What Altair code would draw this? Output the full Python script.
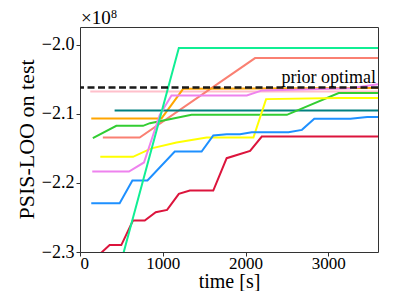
import altair as alt
import pandas as pd

# ---- data (values in units of 1e8) ----
crimson_t = [230, 358, 499, 640, 782, 915, 1052, 1194, 1327, 1610, 1772, 2055, 2196, 3600]
crimson_v = [-2.304, -2.290, -2.290, -2.2545, -2.2545, -2.2425, -2.2391, -2.2159, -2.211, -2.211, -2.1642, -2.1536, -2.1328, -2.1328]

blue_t = [136, 479, 633, 815, 1145, 1469, 1610, 1772, 1933, 2075, 2519, 2681, 2830, 3267, 3469, 3600]
blue_v = [-2.2294, -2.2294, -2.1965, -2.1965, -2.1545, -2.1545, -2.1313, -2.1294, -2.1294, -2.1265, -2.1265, -2.1232, -2.1072, -2.1072, -2.1045, -2.1045]

yellow_t = [245, 640, 863, 1166, 1530, 2095, 2248, 3125, 3600]
yellow_v = [-2.1623, -2.1623, -2.150, -2.1414, -2.1342, -2.1342, -2.0787, -2.0772, -2.0772]

violet_t = [148, 592, 773, 964, 1105, 2015, 2200, 3267, 3600]
violet_v = [-2.1835, -2.1835, -2.1704, -2.1014, -2.0733, -2.0733, -2.0661, -2.0628, -2.057]

orange_t = [136, 984, 1105, 1246, 3600]
orange_v = [-2.1067, -2.1067, -2.087, -2.0638, -2.0625]

teal_t = [418, 3600]
teal_v = [-2.0951, -2.0951]

green_t = [155, 439, 761, 845, 1348, 2499, 3125, 3600]
green_v = [-2.1352, -2.1174, -2.1174, -2.1135, -2.1014, -2.1014, -2.070, -2.070]

salmon_t = [276, 721, 2115, 3600]
salmon_v = [-2.1342, -2.1342, -2.0193, -2.0193]

pink_t = [124, 3600]
pink_v = [-2.0675, -2.0675]

spring_t = [527, 1194, 3600]
spring_v = [-2.3007, -2.0048, -2.0048]

prior_optimal = -2.0617

series = [
    ("pink", pink_t, pink_v),
    ("salmon", salmon_t, salmon_v),
    ("orange", orange_t, orange_v),
    ("teal", teal_t, teal_v),
    ("limegreen", green_t, green_v),
    ("yellow", yellow_t, yellow_v),
    ("violet", violet_t, violet_v),
    ("dodgerblue", blue_t, blue_v),
    ("crimson", crimson_t, crimson_v),
    ("springgreen", spring_t, spring_v),
]
colors = {
    "pink": "#ffc0cb", "salmon": "#fa8072", "orange": "#ffa500", "teal": "#008080",
    "limegreen": "#32cd32", "yellow": "#ffff00", "violet": "#ee82ee",
    "dodgerblue": "#1e90ff", "crimson": "#dc143c", "springgreen": "#10ee94",
}

rows = []
for i, (name, ts, vs) in enumerate(series):
    for j, (t, v) in enumerate(zip(ts, vs)):
        rows.append({"series": name, "time": t, "val": v, "k": i, "o": j})
df = pd.DataFrame(rows)

FONT = "Liberation Serif, Times New Roman, DejaVu Serif, serif"
W, H = 298, 225

xscale = alt.Scale(domain=[0, 3600], nice=False, zero=False)
yscale = alt.Scale(domain=[-2.3, -1.9743], nice=False, zero=False)

xaxis = alt.Axis(values=[0, 1000, 2000, 3000], format="d", title="time [s]", grid=False, domain=False,
                 labelFont=FONT, labelFontSize=17, labelColor="black", labelPadding=-1,
                 tickSize=4, tickColor="#333", titleFont=FONT, titleFontSize=20,
                 titleFontWeight="normal", titleColor="black", titleBaseline="alphabetic",
                 titleY=35)
yaxis = alt.Axis(values=[-2.3, -2.2, -2.1, -2.0], format=".1f",
                 labelExpr="replace(datum.label, '-', '\u2212\u2009\u200a')",
                 title="PSIS-LOO on test", grid=False, domain=False,
                 labelFont=FONT, labelFontSize=18, labelColor="black", labelPadding=2,
                 tickSize=4, tickColor="#333", titleFont=FONT, titleFontSize=22,
                 titleFontWeight="normal", titleColor="black", titleBaseline="alphabetic",
                 titleAngle=270, titleX=-47, titleY=112)

lines = alt.Chart(df).mark_line(strokeWidth=2, clip=True).encode(
    x=alt.X("time:Q", scale=xscale, axis=xaxis),
    y=alt.Y("val:Q", scale=yscale, axis=yaxis),
    color=alt.Color("series:N", scale=alt.Scale(domain=list(colors.keys()), range=list(colors.values())), legend=None),
    detail="k:N",
    order="o:Q",
)

prior_df = pd.DataFrame({"val": [prior_optimal]})
rule = alt.Chart(prior_df).mark_rule(color="#1a1a1a", strokeWidth=2.5, strokeDash=[7, 3.5]).encode(
    y=alt.Y("val:Q", scale=yscale)
)
label = alt.Chart(prior_df).mark_text(text="prior optimal", font=FONT, fontSize=18, align="right",
                                       baseline="alphabetic", color="black", dy=-4).encode(
    x=alt.value(296), y=alt.Y("val:Q", scale=yscale)
)
exp1 = alt.Chart(prior_df).mark_text(text="\u00d710", font=FONT, fontSize=19, align="left",
                                     baseline="alphabetic", color="black").encode(
    x=alt.value(1), y=alt.value(-3)
)
exp2 = alt.Chart(prior_df).mark_text(text="8", font=FONT, fontSize=12, align="left",
                                     baseline="alphabetic", color="black").encode(
    x=alt.value(31), y=alt.value(-9)
)

chart = alt.layer(lines, rule, label, exp1, exp2).properties(
    width=W, height=H,
    autosize=alt.AutoSizeParams(type="none"),
    padding={"left": 72, "top": 19, "right": 13, "bottom": 39},
).configure_view(stroke="#333", strokeWidth=1)

chart.save("out.html", embed_options={"renderer": "svg", "actions": False})
